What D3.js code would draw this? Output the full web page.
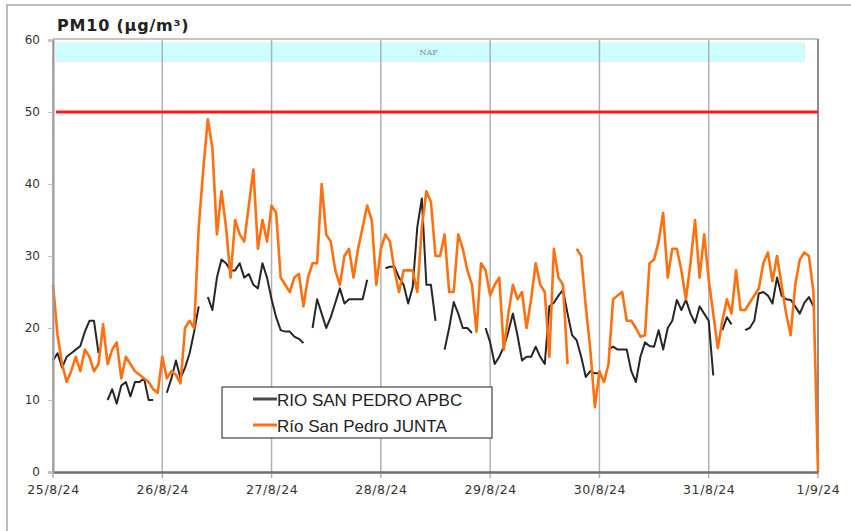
<!DOCTYPE html>
<html>
<head>
<meta charset="utf-8">
<script src="https://cdn.jsdelivr.net/npm/d3@7/dist/d3.min.js"></script>
<style>
	body { margin: 0; background: #fff; }
	svg { display: block; }
</style>
</head>
<body>
<div id="chart-area"></div>
<script>
// data - hourly PM10, 25/8/24 00h -> 1/9/24 00h
const startDate = new Date(2024, 7, 25, 0);
const endDate = new Date(2024, 8, 1, 0);

const yTicks = [0, 10, 20, 30, 40, 50, 60];
const limitValue = 50;
const nafRange = [57, 59.6];     // band values (µg/m³)
const nafHours = [0, 165.5];     // band extent, hours from start
const seriesNames = ["RIO SAN PEDRO APBC", "Río San Pedro JUNTA"];

const apbc = [
	15.5, 16.5, 14.5, 16, 16.5, 17, 17.5, 19.5, 21, 21, 16.5, null, 10, 11.5, 9.5, 12, 12.5, 10.5, 12.5, 12.5, 13, 10, 10, null,
	null, 11, 13, 15.5, 13, 14.5, 16.5, 19.5, 23, null, 24.3, 22.5, 27, 29.5, 29, 28, 28, 29, 27, 27.5, 26, 25.5, 29, 27,
	24, 21.5, 19.7, 19.5, 19.5, 18.8, 18.5, 17.9, null, 20, 24, 22, 20, 21.5, 23.5, 25.5, 23.4, 24, 24, 24, 24, 26.7, null, null,
	null, 28.3, 28.5, 28.5, 27, 26, 23.4, 25.7, 34, 38, 26, 26, 21, null, 17, 20, 23.6, 22, 20, 20, 19.3, null, null, 20,
	18, 15, 16, 17.4, 19.5, 22, 19, 15.5, 16, 16, 17.4, 16, 15, 23, 23.5, 24.5, 25.3, 22, 19, 18.3, 16, 13.2, 14, 13.7,
	13.7, null, 17, 17.4, 17, 17, 17, 14, 12.5, 16, 18, 17.5, 17.4, 19.7, 17, 20, 21, 23.9, 22.5, 23.9, 22, 20.7, 23, 22,
	21, 13.4, null, 19.7, 21.5, 20.5, null, null, 19.7, 20, 21, 24.8, 25, 24.5, 23.4, 27, 24.5, 24, 23.9, 23, 22, 23.5, 24.3, 23,
	null
];

const junta = [
	26, 19, 15, 12.5, 14, 16, 14, 17, 16, 14, 15, 20.5, 15, 17, 18, 13, 16, 15, 14, 13.5, 13, 12.5, 11.5, 11,
	16, 13, 14, 13.5, 12.3, 20, 21, 20, 34, 42, 49, 45, 33, 39, 34, 27, 35, 33, 32, 37, 42, 31, 35, 32,
	37, 36, 27, 26, 25, 27, 27.5, 23, 27, 29, 29, 40, 33, 32, 28, 26, 30, 31, 27, 31, 34, 37, 35, 26,
	31, 33, 32, 28, 25, 28, 28, 28, 25, 34, 39, 37.5, 30, 30, 33, 25, 25, 33, 31, 28, 26, 19.5, 29, 28,
	24.5, 26, 27, 17, 22, 26, 24, 25, 20, 24, 29, 26, 25, 16, 31, 27, 26, 15, null, 31, 30, 23, 17, 9,
	14, 12.5, 15, 24, 24.5, 25, 21, 21, 20, 18.8, 19, 29, 29.5, 32, 36, 27, 31, 31, 28, 24, 29, 35, 27, 33,
	26.7, 22, 17.2, 21, 24, 22, 28, 22.5, 22.5, 23.5, 24.5, 25.5, 29, 30.5, 26.5, 30, 26, 22, 19, 26, 29.5, 30.5, 30, 25,
	0
];

// sizes
const W = 851, H = 531;
const m = { top: 40, left: 53, right: 33, bottom: 59 };
const width = W - m.left - m.right,
	height = H - m.top - m.bottom;

const hourDate = h => d3.timeHour.offset(startDate, h);
const toPoints = arr => arr.map((v, i) => ({ date: hourDate(i), v: v }));

const svg = d3.select("#chart-area").append("svg")
	.attr("width", W)
	.attr("height", H);

// outer frame
svg.append("rect")
	.attr("x", 7).attr("y", 5)
	.attr("width", W).attr("height", H)
	.attr("fill", "none")
	.attr("stroke", "#bdbdbd")
	.attr("stroke-width", 2);

const g = svg.append("g")
	.attr("transform", "translate(" + m.left + "," + m.top + ")");

// scales
const x = d3.scaleTime()
	.domain([startDate, endDate])
	.range([0, width]);

const y = d3.scaleLinear()
	.domain([0, 60])
	.range([height, 0]);

// NAF band
g.append("rect")
	.attr("x", x(hourDate(nafHours[0])) + 3)
	.attr("y", y(nafRange[1]))
	.attr("width", x(hourDate(nafHours[1])) - x(hourDate(nafHours[0])) - 3)
	.attr("height", y(nafRange[0]) - y(nafRange[1]))
	.attr("fill", "#ccffff")
	.attr("stroke", "#e4eeee")
	.attr("stroke-width", 1);

g.append("text")
	.attr("x", (x(hourDate(nafHours[0])) + x(hourDate(nafHours[1]))) / 2)
	.attr("y", y((nafRange[0] + nafRange[1]) / 2) + 3)
	.attr("text-anchor", "middle")
	.style("font-family", "DejaVu Serif, serif")
	.style("font-size", "8px")
	.attr("fill", "#888")
	.text("NAF");

// vertical day grid
const days = d3.timeDay.range(startDate, d3.timeDay.offset(endDate, 1));
g.selectAll(".grid")
	.data(days)
	.enter()
	.append("line")
	.attr("class", "grid")
	.attr("x1", d => x(d))
	.attr("x2", d => x(d))
	.attr("y1", 0)
	.attr("y2", height + 6)
	.attr("stroke", "#b0b0b0")
	.attr("stroke-width", 1.5);

// plot border top / right
g.append("line")
	.attr("x1", 0).attr("x2", width)
	.attr("y1", -1).attr("y2", -1)
	.attr("stroke", "#c4c4c4").attr("stroke-width", 2);

g.append("line")
	.attr("x1", width).attr("x2", width)
	.attr("y1", -1).attr("y2", height)
	.attr("stroke", "#8c8c8c").attr("stroke-width", 2);

// limit line
g.append("line")
	.attr("x1", 3).attr("x2", width)
	.attr("y1", y(limitValue)).attr("y2", y(limitValue))
	.attr("stroke", "#ff1a1a")
	.attr("stroke-width", 3);

// series lines
const line = d3.line()
	.defined(d => d.v !== null)
	.x(d => x(d.date))
	.y(d => y(d.v));

g.append("path")
	.datum(toPoints(apbc))
	.attr("fill", "none")
	.attr("stroke", "#262626")
	.attr("stroke-width", 2)
	.attr("stroke-linejoin", "round")
	.attr("d", line);

g.append("path")
	.datum(toPoints(junta))
	.attr("fill", "none")
	.attr("stroke", "#ff7010")
	.attr("stroke-width", 2.6)
	.attr("stroke-linejoin", "round")
	.attr("d", line);

// axes
const xAxis = d3.axisBottom(x)
	.tickValues(days)
	.tickSize(0)
	.tickPadding(13)
	.tickFormat(d3.timeFormat("%-d/%-m/%y"));

const yAxis = d3.axisLeft(y)
	.tickValues(yTicks)
	.tickSize(5)
	.tickPadding(8);

const gx = g.append("g")
	.attr("transform", "translate(0," + height + ")")
	.call(xAxis);
gx.select(".domain").attr("stroke", "#6e6e6e").attr("stroke-width", 2.5);
gx.selectAll("text")
	.style("font-family", "DejaVu Sans, sans-serif")
	.style("font-size", "12.5px")
	.style("letter-spacing", "0.6px")
	.attr("fill", "#333");

const gy = g.append("g").call(yAxis);
gy.select(".domain").attr("stroke", "#9a9a9a").attr("stroke-width", 2);
gy.selectAll("line").attr("stroke", "#c0c0c0");
gy.selectAll("text")
	.style("font-family", "DejaVu Sans, sans-serif")
	.style("font-size", "12px")
	.attr("fill", "#333");

// unit label
svg.append("text")
	.attr("x", 57)
	.attr("y", 31)
	.style("font-family", "DejaVu Sans, sans-serif")
	.style("font-size", "16px")
	.style("font-weight", "bold")
	.style("letter-spacing", "0.8px")
	.attr("fill", "#222")
	.text("PM10 (µg/m³)");

// legend
const legend = svg.append("g")
	.attr("transform", "translate(222,387)");

legend.append("rect")
	.attr("width", 270)
	.attr("height", 51)
	.attr("fill", "#fff")
	.attr("stroke", "#444")
	.attr("stroke-width", 1.2);

const legendColors = ["#4a4a4a", "#ff7010"];
seriesNames.forEach((name, i) => {
	const ly = 12 + i * 26;
	legend.append("line")
		.attr("x1", 31).attr("x2", 55)
		.attr("y1", ly).attr("y2", ly)
		.attr("stroke", legendColors[i])
		.attr("stroke-width", 3);
	legend.append("text")
		.attr("x", 55)
		.attr("y", ly + 7)
		.style("font-family", "Liberation Sans, Arial, sans-serif")
		.style("font-size", "17px")
		.attr("fill", "#222")
		.text(name);
});
</script>
</body>
</html>
